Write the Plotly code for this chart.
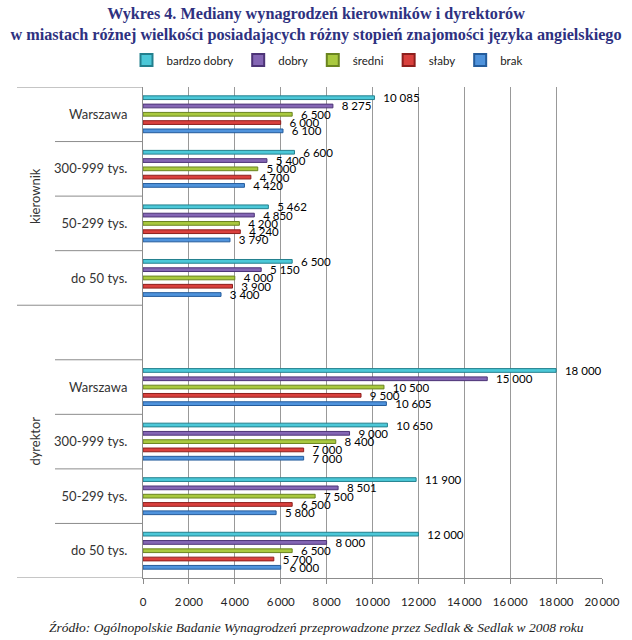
import plotly.graph_objects as go

series_names = ["bardzo dobry", "dobry", "średni", "słaby", "brak"]
series_fill = ["#4CC8D8", "#8466B4", "#A9C93F", "#D9403D", "#4F93DC"]
series_edge = ["#23808E", "#4D3477", "#6A8420", "#8E1F1D", "#245C9C"]

groups = ["kierownik", "dyrektor"]
cities = ["Warszawa", "300-999 tys.", "50-299 tys.", "do 50 tys."]

# values per series, order: cities (Warszawa ... do 50 tys.)
kierownik_vals = {
    "bardzo dobry": [10085, 6600, 5462, 6500],
    "dobry": [8275, 5400, 4850, 5150],
    "średni": [6500, 5000, 4200, 4000],
    "słaby": [6000, 4700, 4240, 3900],
    "brak": [6100, 4420, 3790, 3400],
}
dyrektor_vals = {
    "bardzo dobry": [18000, 10650, 11900, 12000],
    "dobry": [15000, 9000, 8501, 8000],
    "średni": [10500, 8400, 7500, 6500],
    "słaby": [9500, 7000, 6500, 5700],
    "brak": [10605, 7000, 5800, 6000],
}

x_ticks = [0, 2000, 4000, 6000, 8000, 10000, 12000, 14000, 16000, 18000, 20000]

title_text = ("<b>Wykres 4. Mediany wynagrodzeń kierowników i dyrektorów<br>"
              "w miastach różnej wielkości posiadających różny stopień znajomości języka angielskiego</b>")
source_text = "<i>Źródło: Ogólnopolskie Badanie Wynagrodzeń przeprowadzone przez Sedlak &amp; Sedlak w 2008 roku</i>"


def fmt(v, sep=" "):
    return f"{v:,}".replace(",", sep)


# category order from top to bottom
cat_ids = [f"k|{c}" for c in cities] + ["blank"] + [f"d|{c}" for c in cities]
cat_labels = cities + [""] + cities
cat_bottom_up = cat_ids[::-1]

fig = go.Figure()
for i in range(len(series_names) - 1, -1, -1):
    name = series_names[i]
    vals = kierownik_vals[name] + [None] + dyrektor_vals[name]
    texts = ["   " + fmt(v) if v is not None else "" for v in vals]
    fig.add_trace(go.Bar(
        y=cat_ids, x=vals, orientation="h", name=name,
        marker=dict(color=series_fill[i], line=dict(color=series_edge[i], width=1)),
        text=texts, textposition="outside", constraintext="none", cliponaxis=False,
        textfont=dict(family="Lato, 'Open Sans', sans-serif", size=11.5, color="#000000"),
        hoverinfo="x+y",
    ))

L, R, T, B = 143, 30, 87, 62
W, H = 632, 640
pw = W - L - R
ph = H - T - B
x_long = (17 - L) / pw
x_short = (55 - L) / pw

shapes = []
n = len(cat_ids)
for k in range(n + 1):
    ypos = k - 0.5
    long_line = k in (0, n, len(cities) + 1)
    shapes.append(dict(type="line", xref="paper", yref="y",
                       x0=x_long if long_line else x_short, x1=0,
                       y0=ypos, y1=ypos, line=dict(color="#8C8C8C", width=1)))

annotations = [
    dict(text=source_text, xref="paper", yref="paper", x=(316 - L) / pw, y=-(627 - (H - B)) / ph,
         showarrow=False, font=dict(family="Liberation Serif, serif", size=13.5, color="#222222"),
         xanchor="center", yanchor="middle"),
    dict(text="kierownik", xref="paper", yref="y", x=(35 - L) / pw, y=(n - 1) - 1.5,
         showarrow=False, textangle=-90, font=dict(family="Lato, sans-serif", size=13, color="#333333"),
         xanchor="center", yanchor="middle"),
    dict(text="dyrektor", xref="paper", yref="y", x=(35 - L) / pw, y=2.0,
         showarrow=False, textangle=-90, font=dict(family="Lato, sans-serif", size=13, color="#333333"),
         xanchor="center", yanchor="middle"),
]

fig.update_layout(
    width=W, height=H,
    margin=dict(l=L, r=R, t=T, b=B, autoexpand=False),
    paper_bgcolor="white", plot_bgcolor="white",
    barmode="group", bargap=0.24, bargroupgap=0.55,
    title=dict(text=title_text, x=0.5, xref="container", xanchor="center",
               y=1 - 19 / H, yanchor="middle",
               font=dict(family="Liberation Serif, serif", size=16.2, color="#2E3180")),
    legend=dict(orientation="h", traceorder="reversed", x=(327 - L) / pw, xanchor="center",
                y=1.0 + (T - 60) / ph, yanchor="middle",
                font=dict(family="Lato, sans-serif", size=11.5, color="#222222"),
                itemwidth=30, itemsizing="constant", tracegroupgap=0),
    xaxis=dict(range=[0, 20000], tickvals=x_ticks, ticktext=[fmt(v, "\u2009") for v in x_ticks],
               showgrid=True, gridcolor="#999999", gridwidth=1, zeroline=False,
               showline=True, linecolor="#8C8C8C", ticks="outside", ticklen=5, tickcolor="#8C8C8C",
               tickfont=dict(family="Lato, sans-serif", size=11.5, color="#222222"), ticklabelstandoff=8),
    yaxis=dict(type="category", categoryorder="array", categoryarray=cat_bottom_up,
               tickvals=cat_ids, ticktext=cat_labels, range=[-0.5, n - 0.5],
               showgrid=False, zeroline=False, showline=True, linecolor="#8C8C8C",
               ticks="", ticklabelstandoff=12,
               tickfont=dict(family="Lato, sans-serif", size=13, color="#333333")),
    shapes=shapes, annotations=annotations, showlegend=True,
)

fig.write_html("out.html", config={"displayModeBar": False},
               post_script="document.body.style.margin='0';document.body.style.overflow='hidden';")
